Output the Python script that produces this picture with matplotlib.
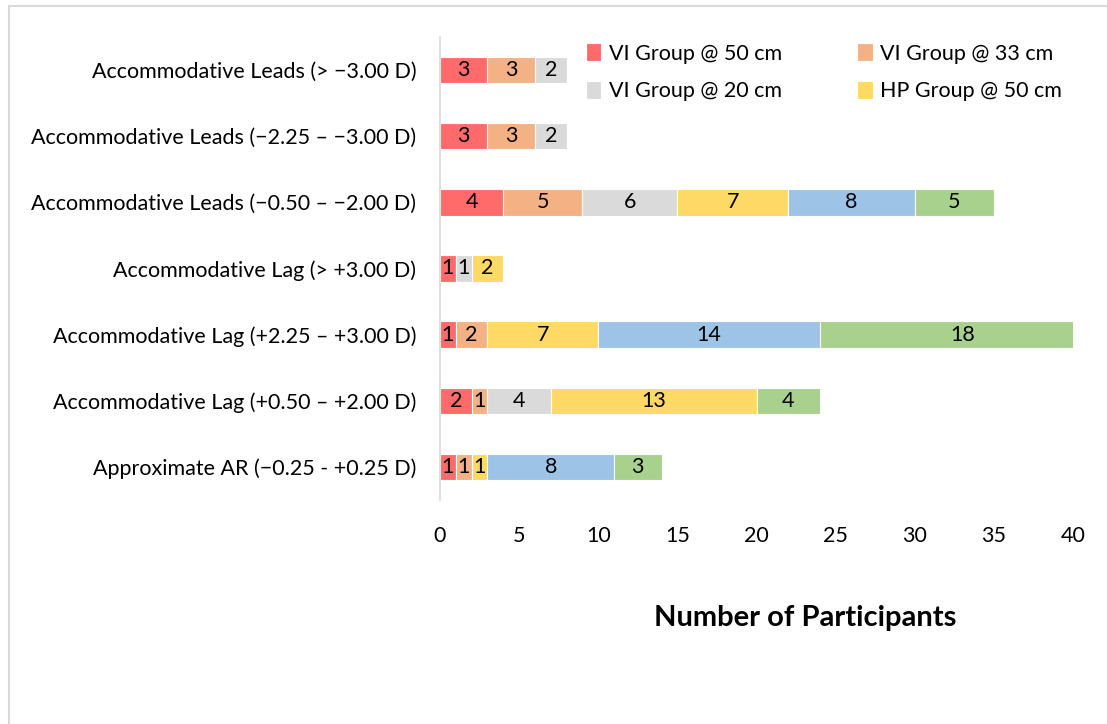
import matplotlib
matplotlib.use("Agg")
import matplotlib.pyplot as plt
from matplotlib.patches import Rectangle
import numpy as np

plt.rcParams['font.family'] = ['Lato', 'DejaVu Sans']

categories = [
    "Approximate AR (\u22120.25 - +0.25 D)",
    "Accommodative Lag (+0.50 \u2013 +2.00 D)",
    "Accommodative Lag (+2.25 \u2013 +3.00 D)",
    "Accommodative Lag (> +3.00 D)",
    "Accommodative Leads (\u22120.50 \u2013 \u22122.00 D)",
    "Accommodative Leads (\u22122.25 \u2013 \u22123.00 D)",
    "Accommodative Leads (> \u22123.00 D)",
]

series_names = ["VI Group @ 50 cm", "VI Group @ 33 cm", "VI Group @ 20 cm",
                "HP Group @ 50 cm", "HP Group @ 33 cm", "HP Group @ 20 cm"]
vi_50 = [1, 2, 1, 1, 4, 3, 3]
vi_33 = [1, 1, 2, 0, 5, 3, 3]
vi_20 = [0, 4, 0, 1, 6, 2, 2]
hp_50 = [1, 13, 7, 2, 7, 0, 0]
hp_33 = [8, 0, 14, 0, 8, 0, 0]
hp_20 = [3, 4, 18, 0, 5, 0, 0]

colors = ["#FF6B6B", "#F4B183", "#DADADA", "#FFD966", "#9DC3E6", "#A9D18E"]
x_ticks = [0, 5, 10, 15, 20, 25, 30, 35, 40]

FS = 15.5

fig = plt.figure(figsize=(11.07, 7.24), dpi=100)
ax = fig.add_axes([440 / 1107, 1 - 500 / 724, 633 / 1107, 463 / 724])

y = np.arange(len(categories))
left = np.zeros(len(categories))
handles = []
for name, vals, col in zip(series_names,
                           [vi_50, vi_33, vi_20, hp_50, hp_33, hp_20], colors):
    vals = np.array(vals, dtype=float)
    bars = ax.barh(y, vals, left=left, height=0.4, color=col,
                   edgecolor="white", linewidth=0.8, label=name)
    handles.append(bars)
    for yi, (l, v) in enumerate(zip(left, vals)):
        if v > 0:
            ax.text(l + v / 2, yi, f"{int(v)}", ha="center", va="center",
                    fontsize=FS, color="black")
    left += vals

ax.set_xlim(0, 40)
ax.set_ylim(-0.5, len(categories) - 0.5)
ax.set_yticks(y)
ax.set_yticklabels(categories, fontsize=FS)
ax.set_xticks(x_ticks)
ax.set_xticklabels([str(t) for t in x_ticks], fontsize=FS)
ax.tick_params(axis="both", length=0)
ax.tick_params(axis="x", pad=19)
ax.tick_params(axis="y", pad=17)
for s in ["top", "right", "bottom"]:
    ax.spines[s].set_visible(False)
ax.spines["left"].set_color("#D9D9D9")
ax.spines["left"].set_linewidth(1.2)

# legend filled row by row: (50, 33) on top, (20, HP 50) below
order = [0, 2, 1, 3]
leg = ax.legend(handles=[handles[i] for i in order],
                labels=[series_names[i] for i in order], ncol=2,
                loc="upper left", bbox_to_anchor=(567 / 1107, 1 - 24 / 724),
                bbox_transform=fig.transFigure, frameon=False, fontsize=FS,
                handlelength=0.7, handleheight=0.9, handletextpad=0.35,
                columnspacing=3.5, labelspacing=0.8)

fig.text(805 / 1107, 1 - 618 / 724, "Number of Participants", ha="center",
         va="center", fontsize=21, fontweight="bold")

fig.patches.append(Rectangle((8.5 / 1107, -0.1), 1.2, 1.1 - 6.5 / 724,
                             transform=fig.transFigure, fill=False,
                             edgecolor="#D9D9D9", linewidth=1.5))

fig.savefig("out.png", dpi=100, facecolor="white")
